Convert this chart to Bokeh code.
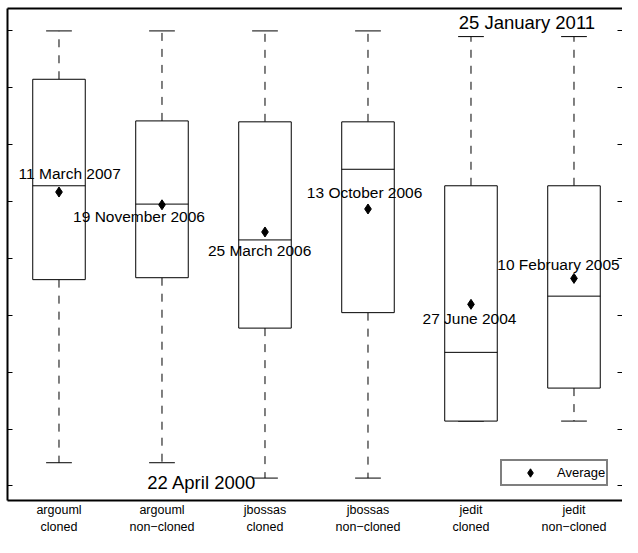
import numpy as np
from datetime import date, timedelta
from bokeh.plotting import figure
from bokeh.models import FixedTicker, LinearAxis, ColumnDataSource, Legend, LegendItem
from bokeh.core.properties import value
from bokeh.embed import file_html
from bokeh.resources import INLINE

# ---------------- data ----------------
categories = ["argouml\ncloned", "argouml\nnon\u2212cloned", "jbossas\ncloned",
              "jbossas\nnon\u2212cloned", "jedit\ncloned", "jedit\nnon\u2212cloned"]
upper_whisker = ["2011-01-25", "2011-01-25", "2011-01-25", "2011-01-25", "2010-12-06", "2010-12-06"]
q3 = ["2009-11-26", "2008-11-25", "2008-11-17", "2008-11-17", "2007-05-05", "2007-05-05"]
median = ["2007-05-05", "2006-11-25", "2006-01-14", "2007-09-27", "2003-05-02", "2004-09-07"]
mean = ["2007-03-11", "2006-11-19", "2006-03-25", "2006-10-13", "2004-06-27", "2005-02-10"]
q1 = ["2005-01-30", "2005-02-16", "2003-12-01", "2004-04-15", "2001-09-05", "2002-06-22"]
lower_whisker = ["2000-09-04", "2000-09-04", "2000-04-22", "2000-04-22", "2001-09-05", "2001-09-05"]
overall_max = "2011-01-25"
overall_min = "2000-04-22"
y_ticks_days = [11000, 11500, 12000, 12500, 13000, 13500, 14000, 14500, 15000]

# ---------------- helpers ----------------
EPOCH = date(1970, 1, 1)

def to_days(vals):
    return [int(v) for v in np.array(vals, dtype="datetime64[D]").astype(np.int64)]

def fmt(d):
    dd = EPOCH + timedelta(days=int(d))
    return f"{dd.day} {dd.strftime('%B %Y')}"

xs = list(range(1, len(categories) + 1))
up = to_days(upper_whisker)
hi = to_days(q3)
med = to_days(median)
mn = to_days(mean)
lo = to_days(q1)
low = to_days(lower_whisker)

BOX_W = 0.51
CAP_W = 0.25
FONT = "Liberation Sans"

p = figure(width=622, height=537, output_backend="svg", toolbar_location=None,
           x_range=(0.5, 6.471), y_range=(10872, 15196),
           min_border_left=7, min_border_right=0, min_border_top=8, min_border_bottom=0)
p.outline_line_color = None
p.grid.visible = False
p.background_fill_color = "white"
p.border_fill_color = "white"

src = ColumnDataSource(dict(
    x=xs, up=up, hi=hi, med=med, mn=mn, lo=lo, low=low,
    xl=[x - BOX_W / 2 for x in xs], xr=[x + BOX_W / 2 for x in xs],
    cl=[x - CAP_W / 2 for x in xs], cr=[x + CAP_W / 2 for x in xs],
    label=[fmt(d) for d in mn],
))

# whiskers
p.segment(x0="x", y0="hi", x1="x", y1="up", source=src, line_color="black",
          line_width=1, line_dash="8 8")
p.segment(x0="x", y0="lo", x1="x", y1="low", source=src, line_color="black",
          line_width=1, line_dash="8 8")
# caps
p.segment(x0="cl", y0="up", x1="cr", y1="up", source=src, line_color="black", line_width=1)
p.segment(x0="cl", y0="low", x1="cr", y1="low", source=src, line_color="black", line_width=1)
# boxes
p.vbar(x="x", width=BOX_W, top="hi", bottom="lo", source=src,
       fill_color="white", line_color="black", line_width=1)
# medians
p.segment(x0="xl", y0="med", x1="xr", y1="med", source=src, line_color="black", line_width=1)
# means
mean_r = p.scatter(x="x", y="mn", source=src, marker="diamond", size=10,
                   fill_color="black", line_color="black")

# mean labels (layout offsets in screen px)
src.data["dx"] = [10.7, -23, -5.4, -3.4, -1.5, -15.5]
src.data["dy"] = [-18.7, 11.5, 19, -16.7, 14.4, -13.8]
p.text(x="x", y="mn", text="label", source=src, x_offset="dx", y_offset="dy",
       text_align="center", text_baseline="alphabetic",
       text_font=value(FONT), text_font_size="15.5px", text_color="black")

# overall extremes
ext_days = to_days([overall_max, overall_min])
ext = ColumnDataSource(dict(
    x=[5.5, 2.5], y=ext_days, text=[fmt(d) for d in ext_days],
    dx=[4.4, -11.7], dy=[-8, 4],
))
p.text(x="x", y="y", text="text", source=ext, x_offset="dx", y_offset="dy",
       text_align="center", text_baseline="alphabetic",
       text_font=value(FONT), text_font_size="18.5px", text_color="black")

# axes
p.xaxis.ticker = FixedTicker(ticks=xs)
p.xaxis.major_label_overrides = {x: c for x, c in zip(xs, categories)}
p.xaxis.major_tick_line_color = None
p.xaxis.minor_tick_line_color = None
p.xaxis.axis_line_width = 2
p.xaxis.major_label_text_font = FONT
p.xaxis.major_label_text_font_size = "12.5px"
p.xaxis.major_label_text_color = "black"
p.xaxis.major_label_text_line_height = 1.25
p.xaxis.major_label_standoff = -4

def style_y(ax, line=True):
    ax.ticker = FixedTicker(ticks=y_ticks_days)
    ax.major_tick_in = 5
    ax.major_tick_out = 0
    ax.minor_tick_line_color = None
    ax.major_label_text_font_size = "0px"
    ax.major_label_text_color = None
    ax.major_label_standoff = 0
    ax.axis_line_width = 2
    if not line:
        ax.axis_line_color = None

style_y(p.yaxis[0])
right = LinearAxis()
style_y(right, line=False)
p.add_layout(right, "right")

top = LinearAxis(ticker=FixedTicker(ticks=[]))
top.major_tick_line_color = None
top.minor_tick_line_color = None
top.major_label_text_font_size = "0px"
top.major_label_text_color = None
top.major_label_standoff = 0
top.axis_line_width = 2
p.add_layout(top, "above")

legend = Legend(items=[LegendItem(label="Average", renderers=[mean_r])],
                location=(493, 14), orientation="vertical")
legend.padding = 1
legend.margin = 0
legend.spacing = 0
legend.glyph_width = 54
legend.glyph_height = 21
legend.label_height = 21
legend.label_standoff = 0
legend.label_text_font = FONT
legend.label_text_font_size = "13px"
legend.label_text_color = "black"
legend.border_line_color = "black"
legend.border_line_width = 2
legend.background_fill_alpha = 1
p.add_layout(legend, "center")

open("out.html", "w").write(file_html(p, INLINE))
